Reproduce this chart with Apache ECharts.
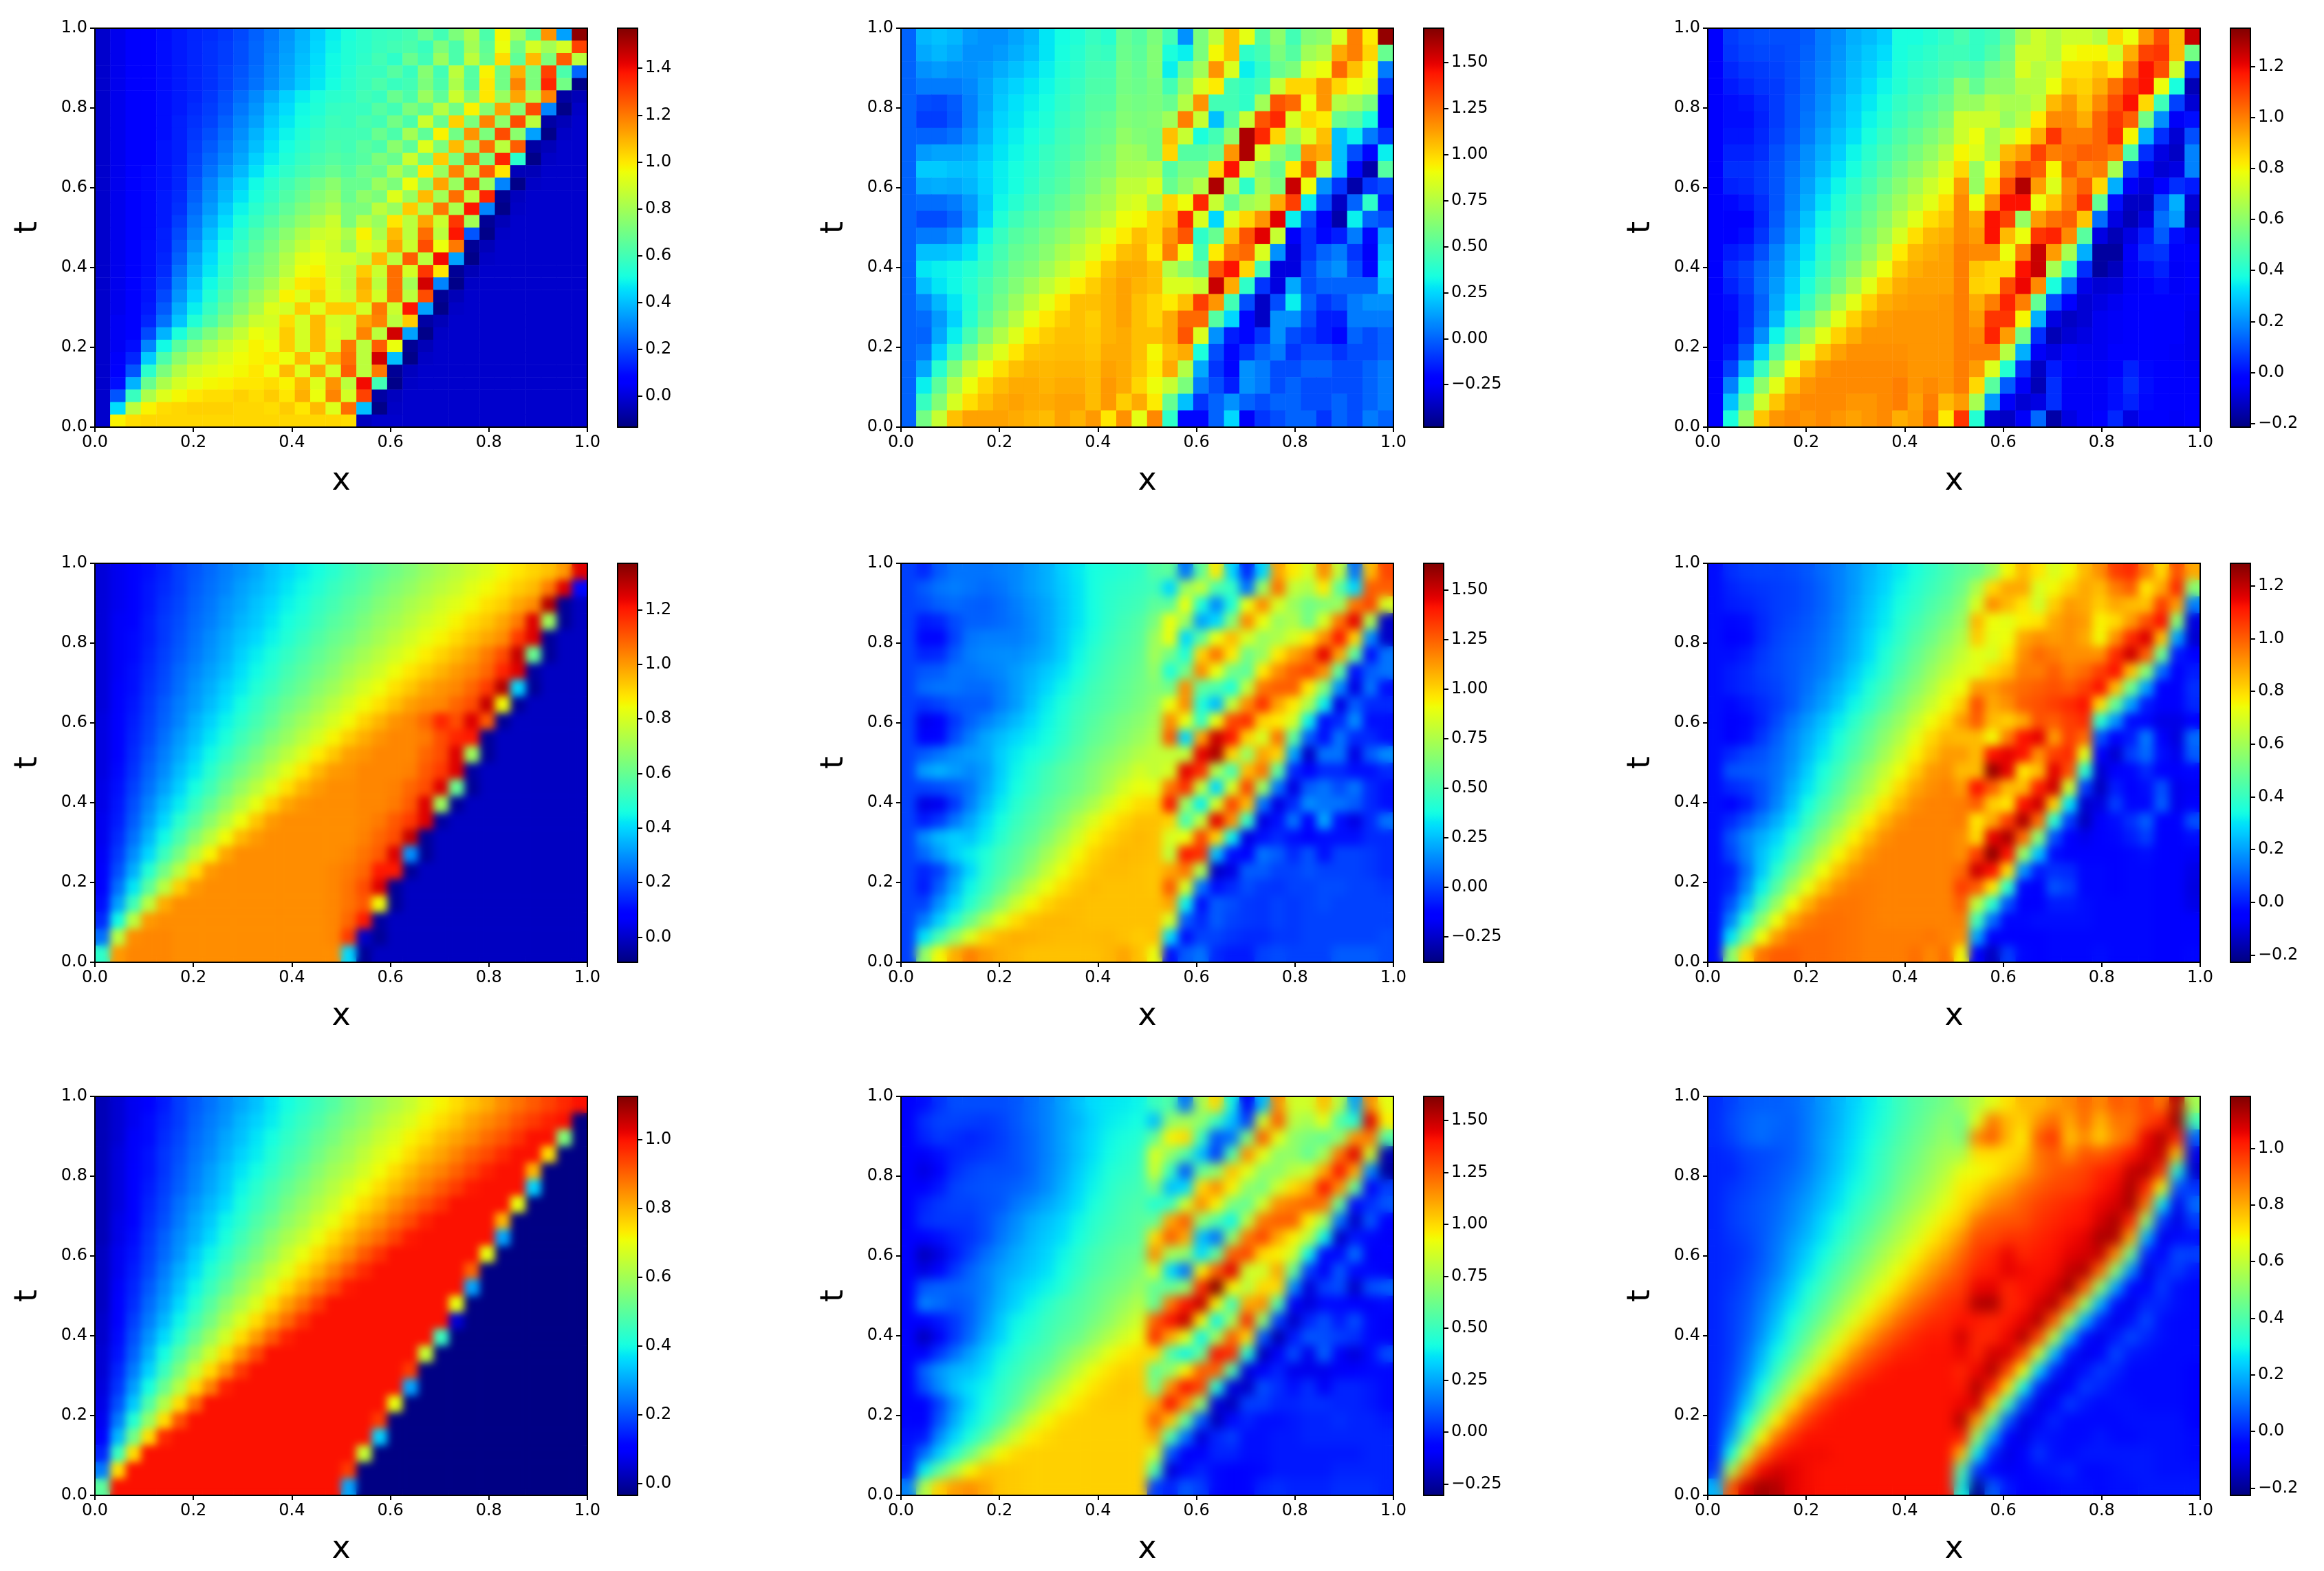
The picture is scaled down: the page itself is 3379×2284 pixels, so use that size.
<!DOCTYPE html>
<html><head><meta charset="utf-8"><style>html,body{margin:0;padding:0;background:#fff}body{position:relative}#c{width:3379px;height:2284px}</style>
<script src="https://cdn.jsdelivr.net/npm/echarts@6/dist/echarts.min.js"></script></head><body><div id="c"></div><script>
// All values are hundredths of u. Row lists run from t=1 down to t=0; a row shorter than 32 cells stays at its last value.
const u11=[
[-2,3,6,8,10,12,14,15,17,20,24,28,33,38,43,48,52,55,57,58,60,68,60,72,82,62,97,80,65,115,35,155],
[-2,3,6,8,10,12,14,16,18,21,25,29,34,39,44,49,53,55,58,60,62,58,72,62,80,66,95,70,90,80,90,130],
[-2,3,6,8,10,12,14,16,18,21,25,30,35,40,45,50,53,56,60,56,68,60,78,62,85,68,102,66,108,72,125,85],
[-2,3,6,8,10,12,14,16,19,22,26,31,36,41,46,50,54,58,58,64,58,74,60,85,64,98,70,110,72,130,62,25],
[-2,3,6,8,10,12,14,16,19,23,27,32,37,42,47,51,55,58,62,58,60,72,62,82,64,100,70,118,72,135,70,-12],
[-2,3,6,8,10,12,14,17,21,26,31,37,43,48,52,55,56,60,58,68,62,78,66,88,72,100,78,112,82,118,-8,-5],
[-2,3,6,8,10,12,15,18,22,28,33,40,45,50,53,57,58,58,64,60,72,66,84,70,98,74,112,74,128,30,-12,-3],
[-2,3,6,8,10,13,16,19,24,30,35,42,47,51,55,59,58,62,60,70,62,88,68,104,72,118,76,128,85,-8,-5,-2],
[-2,3,6,8,10,13,17,21,26,32,38,44,49,53,57,60,60,60,68,62,80,66,98,70,115,72,128,75,35,-12,-3,-2],
[-2,3,6,8,11,13,18,23,28,34,40,46,51,55,59,62,60,65,62,75,66,92,72,108,76,122,85,125,-8,-5,-2],
[-2,3,6,8,11,13,19,25,30,36,43,48,53,57,61,64,62,64,72,68,88,70,105,72,122,72,135,55,-12,-3,-2],
[-2,3,6,9,11,14,20,27,33,39,46,51,56,60,64,68,64,70,68,82,72,100,78,118,82,125,100,-5,-5,-2],
[-2,3,6,9,11,14,22,30,37,43,50,55,60,65,70,75,68,68,78,72,95,75,112,78,128,78,30,-12,-3,-2],
[-2,3,6,9,12,15,24,32,39,46,52,57,63,68,74,78,68,76,72,92,78,108,80,122,85,135,-10,-4,-2],
[-2,3,6,9,12,16,26,34,42,49,55,60,66,72,77,82,72,72,85,78,105,82,120,82,138,30,-12,-3,-2],
[-2,3,6,9,12,18,28,37,45,52,58,64,70,76,82,88,72,84,78,100,85,112,88,132,80,-10,-5,-2],
[-2,3,6,9,13,20,30,40,48,55,62,68,75,82,88,90,82,98,82,108,85,122,85,138,22,-12,-3,-2],
[-2,3,6,10,13,22,33,43,51,58,65,71,79,86,92,88,78,92,88,112,88,128,95,120,-10,-5,-2],
[-2,3,6,10,14,24,36,45,53,61,68,74,83,92,95,90,90,85,108,85,125,85,140,35,-12,-3,-2],
[-2,3,6,10,15,27,38,47,55,63,70,75,85,95,98,90,85,105,88,122,90,132,100,-10,-5,-2],
[-2,3,7,11,17,30,41,50,58,66,73,80,90,100,102,92,85,110,85,122,80,145,30,-12,-3,-2],
[-2,3,7,11,20,33,44,53,62,70,78,85,98,92,105,92,88,108,90,122,85,128,-10,-5,-2],
[-2,3,7,12,23,37,48,57,66,74,82,92,90,105,92,105,105,90,120,88,138,35,-12,-3,-2],
[-2,4,7,14,27,41,53,62,71,80,88,90,102,90,108,90,88,112,118,85,105,-8,-5,-2],
[-2,4,8,20,38,52,63,72,80,87,95,92,105,90,108,92,88,118,85,145,35,-12,-3,-2],
[-2,4,10,30,50,65,75,82,88,93,98,95,105,90,108,90,120,85,125,95,-10,-5,-2],
[-2,5,14,42,62,75,83,88,92,96,98,100,95,108,92,110,122,85,145,40,-12,-3,-2],
[-2,6,22,55,72,83,90,93,95,97,100,95,108,92,112,90,125,85,120,-10,-4,-2],
[-2,10,38,68,82,90,94,97,98,100,100,102,98,108,92,115,85,140,60,-12,-3,-2],
[-2,22,58,82,92,97,100,102,102,104,102,105,100,110,95,118,90,130,-8,-4,-2],
[-2,45,85,98,102,103,104,104,104,103,103,102,105,100,108,92,122,40,-12,-3,-2],
[-2,98,102,103,103,103,103,103,103,103,103,103,103,103,103,103,102,-4,-2]];
// Panels below: *L = rows for x<0.5 (t from 1 to 0), *R = columns for x>0.5 (each column from t=1 to t=0).
const u12L=[
[0,18,20,18,12,10,10,14,18,28,33,36,42,38,55,50],
[0,15,18,15,10,10,12,16,20,28,34,38,44,42,56,52],
[0,10,12,10,10,12,16,20,24,30,36,40,46,46,58,54],
[0,5,5,5,8,14,20,24,28,32,38,42,48,48,58,56],
[0,-5,-6,-2,6,14,22,27,30,34,40,44,50,50,60,58],
[0,-8,-8,-3,6,16,24,28,32,36,42,46,52,54,62,60],
[0,0,0,3,10,18,26,30,34,38,44,48,54,56,66,62],
[0,12,14,14,16,22,28,32,36,42,46,50,56,60,70,68],
[0,22,22,20,20,25,30,34,38,44,48,54,60,62,72,72],
[0,15,16,15,18,24,30,34,40,46,50,56,62,68,78,78],
[0,2,2,5,12,22,32,38,44,50,55,60,68,72,82,85],
[0,-5,-5,0,10,24,36,44,50,55,60,66,72,78,90,92],
[0,5,5,10,20,32,42,50,54,60,65,72,80,88,95,105],
[0,20,20,22,28,38,46,54,58,64,72,78,86,95,105,108],
[0,28,30,32,36,42,50,58,62,70,78,86,95,105,110,110],
[0,20,28,32,38,46,54,62,70,78,86,95,102,108,112,108],
[0,8,18,28,36,48,58,68,78,88,96,105,105,108,112,105],
[0,2,12,24,38,52,64,76,88,96,102,105,102,108,112,105],
[0,0,15,30,46,62,74,86,96,102,105,105,103,108,110,105],
[0,5,24,42,60,76,86,96,104,105,106,106,104,110,110,105],
[0,15,38,60,78,90,98,105,108,107,108,108,106,112,110,104],
[0,30,52,74,90,100,106,110,110,108,110,110,106,114,110,100],
[0,42,62,84,98,105,110,112,110,110,112,112,106,114,102,110],
[0,58,80,105,112,112,112,110,108,106,112,108,114,96,116,88]];
const u12R=[
[60,62,62,60,60,62,60,60,75,85,72,100,100,95,105,105,100,100,105,92,95,90,95,118],
[45,35,30,45,55,70,105,100,50,55,100,105,115,120,75,85,95,110,110,105,110,80,55,40],
[10,30,55,65,75,120,80,50,60,65,90,140,130,90,65,85,105,125,130,110,75,60,20,-20],
[60,60,70,85,115,80,35,50,60,75,140,85,40,45,55,80,135,125,85,35,15,5,-10,-20],
[78,92,115,95,45,20,45,55,100,160,80,25,55,95,130,155,115,50,10,-5,-10,-5,0,0],
[105,105,85,45,45,50,65,115,145,75,55,85,105,120,145,110,45,25,-15,-20,-20,-15,10,25],
[88,40,30,40,40,80,160,160,80,40,70,100,130,125,100,40,-5,-20,-20,-10,10,10,0,-25],
[50,45,40,45,70,130,140,85,65,70,75,115,150,85,45,-10,-35,-35,-10,0,5,5,-5,-10],
[65,60,55,80,130,140,100,65,55,60,110,150,80,10,-30,-30,-5,10,10,5,-5,-5,0,-5],
[45,50,60,100,125,85,70,55,95,155,135,30,-25,-30,-30,15,30,10,-5,-10,-5,0,0,0],
[62,70,85,100,90,100,85,115,130,90,30,-5,-10,-10,-5,-5,0,-5,-10,-5,0,-5,-5,0],
[65,75,90,115,115,95,105,110,80,10,-5,-25,-20,0,5,0,-10,-15,-15,-5,0,-5,-5,-10],
[85,110,125,100,75,55,20,20,20,-10,-35,-40,-15,5,10,0,-5,-15,-20,-10,-5,-5,0,0],
[120,120,105,90,70,50,30,-5,-20,-40,0,30,5,-10,-5,0,5,5,0,-5,-5,-5,-5,-5],
[95,100,90,85,60,35,5,-20,-40,-10,40,0,-20,-25,-20,0,10,5,-5,-5,0,0,0,5],
[165,55,5,-10,-20,-20,-10,30,50,-5,-15,-5,15,20,25,20,10,5,0,0,5,5,5,0]];
const u13L=[
[-2,7,9,10,10,10,12,17,20,25,27,30,38,38,40,43],
[-2,6,8,9,9,10,13,17,21,26,29,32,38,40,42,45],
[-2,4,6,7,8,10,14,18,22,27,30,34,39,42,44,47],
[-2,2,4,6,7,10,14,19,23,28,32,36,40,44,46,50],
[-2,0,1,4,7,11,15,20,25,30,34,38,43,46,50,54],
[-2,0,0,3,7,11,16,21,26,31,36,40,45,49,53,58],
[-2,1,1,4,8,12,17,23,28,33,38,43,48,52,57,62],
[-2,3,3,5,10,14,20,25,30,36,41,46,51,56,61,68],
[-2,5,5,7,11,16,21,27,33,38,44,49,55,60,66,74],
[-2,3,4,7,11,17,23,30,36,42,47,53,59,65,72,78],
[-2,-1,1,5,11,18,25,33,39,45,51,57,63,70,76,84],
[-2,-4,-2,4,12,20,28,36,42,48,54,60,68,76,84,88],
[-2,-2,0,6,14,22,31,38,45,51,57,64,74,84,90,92],
[-2,2,4,10,18,26,33,41,48,54,61,70,82,90,92,94],
[-2,5,8,14,20,28,36,44,51,59,68,78,88,92,94,94],
[-2,3,7,15,22,30,39,48,56,66,76,86,92,94,94,94],
[-2,0,5,13,24,33,44,54,66,76,86,92,94,95,95,96],
[-2,-1,5,14,27,40,52,64,76,86,92,95,96,96,96,96],
[-2,-1,7,20,36,50,64,76,86,92,96,96,96,96,96,96],
[-2,2,13,30,48,64,76,88,94,97,97,97,97,96,96,96],
[-2,8,26,44,62,78,90,96,98,98,98,98,98,96,96,96],
[-2,18,38,60,76,90,96,98,98,98,98,98,100,96,98,96],
[-2,28,50,72,88,96,98,98,98,96,96,98,100,94,100,90],
[-2,38,62,88,96,98,96,98,96,94,96,98,92,95,102,82]];
const u13R=[
[47,45,50,60,62,72,72,80,85,95,98,98,98,100,100,100,100,100,100,100,100,100,95,112],
[43,43,48,52,62,72,78,75,62,62,78,92,95,98,88,86,92,95,98,100,95,85,65,40],
[45,48,55,60,68,72,65,66,78,85,98,118,118,98,85,85,100,112,115,100,75,50,22,-10],
[52,55,58,60,65,62,72,90,98,108,118,110,90,78,85,108,115,112,95,68,40,12,-5,-12],
[65,72,74,68,65,68,80,95,108,128,118,62,78,100,118,120,100,80,55,25,5,-5,-10,-5],
[72,72,68,68,70,82,92,110,105,95,78,95,112,125,125,98,52,25,5,-5,-12,-14,-8,14],
[68,68,72,78,90,98,112,100,80,75,88,102,115,95,65,38,10,-8,-14,-8,2,5,5,-16],
[72,78,84,88,96,98,100,102,105,98,100,105,98,65,42,15,-2,-12,-10,-5,-2,-5,-5,-8],
[72,80,84,86,88,92,100,105,98,105,112,88,50,25,5,-7,-10,-10,-8,-6,-5,-5,-5,-5],
[68,80,88,92,98,104,104,104,100,85,52,15,-8,-17,-17,-10,-8,-6,-6,-6,-5,-5,-5,-2],
[85,72,82,102,108,112,114,100,65,25,0,-8,-14,-17,-13,-9,-6,-5,-5,-3,-2,0,0,4],
[78,92,102,112,118,105,80,48,8,-5,-12,-14,-8,-5,-5,-5,-4,-4,-4,-2,3,5,3,-8],
[96,110,118,118,85,55,25,5,-5,-9,-12,-8,2,5,0,-2,-2,-3,-3,-2,-1,0,-1,-2],
[108,112,108,78,45,20,5,-8,-10,-4,10,15,12,6,3,0,-2,-4,-4,-4,-3,-2,-2,-2],
[90,90,72,38,8,-5,-10,-12,-8,5,25,22,0,-4,-5,-5,-4,-4,-4,-5,-4,-4,-4,-5],
[125,55,5,-14,-10,0,10,18,18,2,-10,-12,-6,-4,-4,-4,-5,-6,-6,-6,-5,-4,-4,-2]];
const u21=[
[2,5,8,11,14,18,21,24,27,30,33,37,40,43,46,49,53,56,59,62,65,69,72,75,78,81,85,88,91,94,100,125],
[2,5,8,12,15,18,22,25,28,32,35,38,42,45,48,52,55,58,62,65,68,72,75,78,82,85,88,92,95,105,125,10],
[2,5,9,12,16,19,23,26,30,33,37,40,44,47,51,54,58,61,65,68,72,75,79,82,85,89,92,98,102,130,-6,-1],
[2,6,9,13,17,20,24,27,31,35,38,42,46,49,53,57,60,64,68,71,75,79,82,86,90,93,98,105,125,70,-6,-1],
[2,6,10,13,17,21,25,29,33,37,40,44,48,52,56,60,63,67,71,75,79,83,86,90,94,98,102,115,125,-6,-1],
[2,6,10,14,18,22,26,30,34,39,43,47,51,55,59,63,67,71,75,79,83,87,91,95,99,105,112,128,60,-6,-1],
[2,6,11,15,19,24,28,32,36,41,45,49,54,58,62,66,71,75,79,84,88,92,96,100,103,108,118,125,-5,-1],
[2,7,11,16,20,25,30,34,39,43,48,52,57,61,66,70,75,80,84,89,93,98,101,103,108,115,130,40,-6,-1],
[2,7,12,17,22,27,31,36,41,46,51,56,61,65,70,75,80,85,89,94,99,102,103,108,112,128,85,-6,-1],
[3,8,13,18,23,28,34,39,44,49,54,59,65,70,75,80,85,91,96,101,103,108,118,112,125,110,-6,-1],
[3,8,14,19,25,31,36,42,47,53,58,64,69,75,80,86,92,97,101,103,103,105,112,118,120,-6,-1],
[3,9,15,21,27,33,39,45,51,57,63,69,75,81,87,93,99,101,103,103,103,108,112,125,70,-6,-1],
[3,10,16,23,29,36,42,49,56,62,68,75,82,88,95,100,101,103,103,103,104,110,115,125,-5,-1],
[4,11,18,25,32,39,46,53,61,68,75,82,89,96,100,102,102,103,103,104,108,112,125,60,-6,-1],
[4,12,20,28,36,43,51,59,67,75,83,91,98,101,102,102,102,103,103,105,110,125,70,-6,-1],
[5,13,22,31,40,49,57,66,75,84,93,100,102,102,102,102,102,103,105,110,115,125,-5,-1],
[5,15,25,35,45,55,65,75,85,95,100,102,102,102,102,102,102,104,108,112,128,-6,-1],
[6,17,29,40,52,63,75,86,98,102,102,102,102,102,102,102,103,106,110,125,30,-6,-1],
[7,20,34,48,62,75,89,100,102,102,102,102,102,102,102,103,105,108,120,120,-6,-1],
[8,25,42,58,75,92,100,102,102,102,102,102,102,102,102,103,106,112,125,-6,-1],
[11,32,53,75,97,102,102,102,102,102,102,102,102,102,102,103,106,110,85,-6,-1],
[15,45,75,100,102,102,102,102,102,102,102,102,102,102,102,103,108,120,-5,-1],
[25,75,102,103,103,102,102,102,102,102,102,102,102,102,102,103,115,0,-6,-1],
[50,100,103,103,103,102,102,102,102,102,102,102,102,102,102,102,40,-6,-1]];
const u22L=[
[0,-5,5,10,10,10,12,14,18,22,28,33,38,40,42,44],
[0,5,10,12,10,8,10,14,18,22,27,32,38,42,44,46],
[0,2,6,8,6,5,8,12,16,20,26,32,38,43,46,48],
[0,-8,-6,2,6,6,8,11,15,20,26,32,38,44,48,52],
[0,-12,-12,0,10,12,12,12,15,20,27,34,40,46,50,54],
[0,-6,-5,5,12,14,15,15,18,22,28,36,43,48,52,56],
[0,4,5,10,10,12,14,18,22,27,32,38,45,50,54,58],
[0,8,10,10,8,8,12,18,24,30,36,42,48,52,56,60],
[0,-3,0,4,5,5,12,18,26,34,40,46,50,54,58,62],
[0,-18,-15,-2,6,12,18,24,30,36,42,48,53,58,62,66],
[0,-15,-12,2,12,20,25,30,34,38,44,50,56,60,65,70],
[0,5,10,15,18,20,28,34,38,42,48,54,60,65,70,76],
[0,18,22,18,14,18,28,36,42,48,54,58,64,70,76,84],
[0,0,2,5,10,20,30,38,44,50,55,60,66,74,84,90],
[0,-20,-18,-2,12,24,34,42,48,54,60,66,74,84,92,98],
[0,-8,-2,10,20,30,38,46,52,58,66,76,86,94,100,104],
[0,15,24,28,26,34,42,50,56,64,74,84,94,100,104,106],
[0,8,18,28,34,40,48,54,62,72,82,92,100,104,106,105],
[0,-6,0,16,30,42,50,58,68,80,90,98,103,105,105,104],
[0,-8,6,22,36,46,56,68,80,90,98,103,105,104,104,104],
[0,0,16,30,42,54,68,82,92,100,104,105,104,104,104,104],
[0,12,28,42,58,74,88,98,104,106,106,105,104,104,104,104],
[0,32,50,68,86,100,106,108,107,106,105,105,105,106,104,102],
[0,68,92,108,118,112,108,106,104,104,104,104,104,106,110,104]];
const u22R=[
[52,48,55,62,70,72,68,64,68,72,76,80,80,88,100,104,104,104,103,103,104,104,104,90],
[55,30,55,90,90,60,40,60,90,115,125,80,85,120,140,100,85,80,110,125,110,85,30,-10],
[10,70,90,70,30,40,60,115,115,90,30,80,145,135,70,50,90,140,120,85,35,5,-10,5],
[55,80,40,20,55,100,115,55,40,45,110,145,135,80,35,80,130,135,75,10,-10,-5,0,10],
[95,50,15,30,90,120,90,50,25,90,150,155,75,30,85,145,100,25,-25,-10,5,5,0,-5],
[30,45,40,65,105,95,60,40,80,130,140,100,50,85,130,115,35,-10,-20,-5,2,0,-3,-8],
[-5,10,90,115,85,60,55,80,115,135,100,70,105,130,105,45,-20,-15,5,2,-2,-2,-5,-8],
[30,70,115,90,70,70,95,120,135,100,85,110,120,70,10,-20,-10,10,5,-2,-3,-3,-5,0],
[110,120,85,70,75,95,115,125,110,95,120,100,55,10,-20,-10,-5,5,0,-3,0,0,-2,2],
[95,80,70,75,85,110,125,125,95,85,55,20,-5,-20,-5,10,-10,-5,0,0,-2,-2,-2,0],
[85,75,60,60,95,120,130,95,75,35,5,-25,-15,5,15,-15,-15,3,3,0,0,0,0,0],
[115,95,65,85,115,145,115,65,35,-10,-10,10,-5,10,10,20,-10,-10,0,2,2,0,0,0],
[80,55,70,120,140,110,55,15,-20,-5,10,10,-5,2,10,-10,-10,0,0,2,0,0,0,5],
[10,30,120,145,100,55,-10,-20,5,15,-5,-20,-10,10,5,-20,-10,0,0,0,0,0,0,5],
[105,125,130,75,15,-10,5,10,-5,-10,-5,5,-10,-5,-5,-5,-5,-2,-2,0,0,0,0,5],
[130,125,85,-25,-25,10,10,-10,-5,-10,-10,15,-5,-10,-10,10,-5,-5,-5,-2,0,0,2,2]];
const u23L=[
[-2,3,5,6,6,7,9,12,15,19,23,27,31,35,39,43],
[-2,1,3,4,5,6,8,11,15,19,24,28,33,37,41,45],
[-2,0,1,3,5,6,8,11,15,20,25,30,35,39,44,48],
[-2,-3,-2,2,5,7,9,12,16,21,26,31,37,42,47,52],
[-2,-4,-3,2,6,8,10,13,17,22,28,33,39,45,50,56],
[-2,-2,0,4,7,9,11,14,18,23,29,36,42,48,54,60],
[-2,0,2,5,7,9,12,15,20,26,32,38,45,51,58,64],
[-2,0,2,4,6,9,13,18,23,29,36,42,49,55,62,70],
[-2,-3,-1,2,5,9,15,20,26,33,39,46,53,60,67,74],
[-2,-6,-3,1,7,13,19,25,31,38,45,52,58,66,74,80],
[-2,-6,-2,4,10,16,22,28,35,42,49,56,63,72,80,86],
[-2,2,6,8,12,17,24,31,38,45,52,60,68,76,84,90],
[-2,8,9,10,13,19,27,35,42,50,58,66,74,82,90,92],
[-2,2,4,8,14,22,30,38,46,54,62,71,80,88,92,94],
[-2,-4,0,8,16,25,34,43,51,60,69,78,86,92,94,94],
[-2,2,8,15,22,30,40,49,58,68,77,86,92,94,94,94],
[-2,8,16,22,28,36,46,56,66,76,85,92,94,94,94,94],
[-2,6,15,25,32,42,53,64,75,84,91,94,94,94,94,94],
[-2,0,12,26,38,50,62,74,84,91,94,94,94,94,94,94],
[-2,2,16,32,46,60,73,84,92,95,95,94,94,94,94,94],
[-2,8,24,42,58,74,86,94,96,96,95,94,94,94,94,94],
[-2,16,36,56,74,88,95,97,97,96,95,94,94,94,94,94],
[-2,30,52,74,90,97,98,98,97,96,95,95,95,95,96,94],
[-2,55,80,96,100,100,98,98,97,96,95,95,95,97,93,97]];
const u23R=[
[47,50,54,58,62,66,70,74,82,90,85,90,85,90,95,95,92,92,98,105,100,95,92,75],
[50,62,70,85,82,72,72,90,102,100,85,85,85,112,100,78,80,105,118,100,65,42,20,-5],
[58,80,92,74,72,70,80,90,88,85,75,112,125,100,82,88,115,126,112,78,38,12,-5,-14],
[75,88,85,72,74,78,85,95,92,82,95,115,115,85,78,105,122,112,80,38,8,-3,-6,5],
[85,88,78,76,88,92,95,98,100,88,112,112,78,85,112,122,98,58,18,-3,-6,-3,-5,-3],
[78,70,68,78,92,98,95,100,102,102,115,92,85,110,118,98,55,25,0,-6,-5,-2,-5,-5],
[70,75,82,88,90,95,100,102,105,100,90,105,115,118,82,38,8,-2,3,8,0,-2,-3,-3],
[75,82,90,92,92,92,95,100,108,105,105,108,102,68,30,5,-5,-6,2,5,0,-2,-3,-3],
[85,88,88,90,88,92,98,105,112,108,98,72,38,5,-12,-14,-8,-5,-3,-3,-2,-2,-3,-3],
[92,85,82,76,75,92,105,112,80,38,8,-5,-12,-14,-10,-6,-5,-4,-3,-3,-3,-3,-3,-2],
[105,95,88,80,92,108,112,85,48,18,-5,-12,-6,0,5,-2,-3,-4,-4,-4,-3,-3,-3,-3],
[108,100,85,90,108,118,85,50,20,-2,0,5,-3,-4,-3,3,0,-3,-3,-3,-3,-3,-3,-3],
[95,78,84,102,116,100,55,20,0,-3,14,12,2,-2,-3,10,5,-2,-3,-3,-3,-3,-3,-3],
[80,88,105,112,85,50,12,-4,-6,-9,-6,-2,-5,8,10,-4,-6,-5,-4,-4,-4,-4,-4,-4],
[102,108,90,55,20,0,-5,-6,-6,-9,-10,-8,-6,-8,-8,-5,-6,-6,-5,-5,-5,-5,-5,-5],
[88,55,15,-10,-12,-5,0,3,2,-4,12,10,-3,-7,-6,8,-2,-7,-9,-10,-9,-6,-5,-3]];
const u31=[
[2,5,8,11,14,18,21,24,27,30,33,37,40,43,46,49,53,56,59,62,65,69,72,75,78,81,85,88,91,94,97,100],
[2,5,8,12,15,18,22,25,28,32,35,38,42,45,48,52,55,58,62,65,68,72,75,78,82,85,88,92,95,98,100,-3],
[2,5,9,12,16,19,23,26,30,33,37,40,44,47,51,54,58,61,65,68,72,75,79,82,85,89,92,96,100,100,55,-3],
[2,6,9,13,17,20,24,27,31,35,38,42,46,49,53,57,60,64,68,71,75,79,82,86,90,93,97,100,100,75,-3],
[2,6,10,13,17,21,25,29,33,37,40,44,48,52,56,60,63,67,71,75,79,83,86,90,94,98,100,100,80,-3],
[2,6,10,14,18,22,26,30,34,39,43,47,51,55,59,63,67,71,75,79,83,87,91,95,99,100,100,100,35,-3],
[2,6,11,15,19,24,28,32,36,41,45,49,54,58,62,66,71,75,79,84,88,92,96,100,100,100,100,70,-3],
[2,7,11,16,20,25,30,34,39,43,48,52,57,61,66,70,75,80,84,89,93,98,100,100,100,100,80,-3],
[2,7,12,17,22,27,31,36,41,46,51,56,61,65,70,75,80,85,89,94,99,100,100,100,100,100,30,-3],
[3,8,13,18,23,28,34,39,44,49,54,59,65,70,75,80,85,91,96,100,100,100,100,100,100,70,-3],
[3,8,14,19,25,31,36,42,47,53,58,64,69,75,80,86,92,97,100,100,100,100,100,100,90,-3],
[3,9,15,21,27,33,39,45,51,57,63,69,75,81,87,93,99,100,100,100,100,100,100,100,30,-3],
[3,10,16,23,29,36,42,49,56,62,68,75,82,88,95,100,100,100,100,100,100,100,100,70,-3],
[4,11,18,25,32,39,46,53,61,68,75,82,89,96,100,100,100,100,100,100,100,100,100,5,-3],
[4,12,20,28,36,43,51,59,67,75,83,91,98,100,100,100,100,100,100,100,100,100,45,-3],
[5,13,22,31,40,49,57,66,75,84,93,100,100,100,100,100,100,100,100,100,100,65,-3],
[5,15,25,35,45,55,65,75,85,95,100,100,100,100,100,100,100,100,100,100,95,-3],
[6,17,29,40,52,63,75,86,98,100,100,100,100,100,100,100,100,100,100,100,30,-3],
[7,20,34,48,62,75,89,100,100,100,100,100,100,100,100,100,100,100,100,70,-3],
[8,25,42,58,75,92,100,100,100,100,100,100,100,100,100,100,100,100,95,-3],
[11,32,53,75,97,100,100,100,100,100,100,100,100,100,100,100,100,100,35,-3],
[15,45,75,100,100,100,100,100,100,100,100,100,100,100,100,100,100,65,-3],
[25,75,100,100,100,100,100,100,100,100,100,100,100,100,100,100,95,-3],
[50,100,100,100,100,100,100,100,100,100,100,100,100,100,100,100,30,-3]];
const u32L=[
[-8,-4,3,8,8,8,8,10,14,18,24,30,35,37,38,40],
[-8,2,6,6,5,4,6,10,14,18,24,28,34,38,40,42],
[-8,0,4,2,0,2,5,9,13,18,24,30,35,40,43,45],
[-8,-10,-4,0,2,4,6,9,13,18,24,30,36,41,45,48],
[-8,-14,-8,2,6,8,8,9,13,19,25,32,38,44,47,50],
[-8,-8,-2,6,8,9,10,12,15,20,27,34,40,46,50,52],
[-8,0,4,6,6,8,10,16,20,25,30,36,43,48,52,55],
[-8,2,4,4,4,8,14,20,26,30,34,40,46,50,54,57],
[-8,-8,-4,0,3,8,16,22,28,32,36,42,48,53,56,58],
[-8,-20,-14,-2,6,14,20,26,30,34,40,46,52,56,60,62],
[-8,-14,-6,4,12,18,24,28,32,36,42,48,54,58,62,66],
[-8,10,12,12,14,18,26,32,36,40,45,52,58,62,66,72],
[-8,18,14,10,12,20,28,34,40,46,52,56,60,66,72,78],
[-8,-8,-2,4,12,22,32,40,44,50,54,58,64,70,78,85],
[-8,-20,-10,4,14,26,34,42,47,52,58,62,70,78,86,92],
[-8,-8,4,14,24,32,40,46,52,56,64,72,80,90,96,100],
[-8,12,22,28,30,36,44,50,56,62,72,82,92,98,102,102],
[-8,8,20,30,36,40,48,54,62,72,82,92,98,102,104,103],
[-8,-8,6,22,34,42,50,58,70,82,92,98,102,103,103,102],
[-6,-8,10,26,38,46,56,70,84,94,100,102,102,102,102,102],
[-4,-2,20,34,44,56,72,86,96,100,102,102,102,102,102,102],
[-2,14,32,46,62,80,94,100,102,102,102,102,102,102,102,102],
[0,38,58,76,94,104,104,103,102,102,102,102,102,102,102,102],
[18,78,102,112,115,110,104,103,102,102,102,102,102,102,102,102]];
const u32R=[
[50,30,60,88,85,65,45,60,100,115,85,60,60,125,135,100,60,65,110,125,110,85,55,5],
[55,70,95,70,50,30,50,110,125,75,35,60,120,140,110,55,70,115,140,105,55,10,-15,0],
[15,75,100,55,10,35,85,125,110,70,15,70,140,150,90,40,95,140,115,60,15,-10,-5,10],
[75,70,50,30,60,100,115,70,30,35,95,135,150,95,40,60,125,130,70,10,-15,-8,0,5],
[100,50,10,5,70,115,95,55,15,60,125,160,95,40,75,140,125,45,-15,-20,0,0,-5,-5],
[40,30,15,55,105,95,65,40,70,125,145,95,50,75,125,135,55,-15,-20,-5,5,0,-8,-8],
[-10,5,65,115,90,70,60,80,120,130,85,80,110,135,100,45,-15,-18,5,0,-4,-4,-6,-6],
[30,85,125,90,70,65,85,120,130,100,85,100,115,70,10,-20,-10,8,5,-4,-4,-4,-5,0],
[115,125,90,70,70,85,115,125,110,95,110,100,55,5,-22,-10,0,2,0,-4,-2,-2,-2,2],
[85,80,70,70,80,100,120,125,95,85,60,20,-10,-18,-2,8,-12,-4,0,-2,-2,-2,-2,0],
[85,75,65,60,85,110,125,95,80,40,5,-15,-15,0,10,-12,-12,2,2,0,0,-2,-2,0],
[105,90,60,75,110,140,120,75,40,-5,-10,5,-5,8,8,12,-12,-10,2,0,0,-2,-2,0],
[80,55,70,120,140,115,60,15,-18,-5,10,8,-5,-2,5,-10,-10,0,0,2,0,-2,0,2],
[25,45,115,145,110,60,-5,-18,-2,15,-5,-18,-8,8,2,-15,-8,0,0,0,0,-2,0,2],
[115,145,120,85,20,-10,2,10,-5,-10,-5,8,-10,-5,-5,-5,-5,-2,-2,0,0,0,0,2],
[90,95,55,-22,-25,5,10,-8,-10,-8,-10,12,-5,-10,-10,8,-5,-5,-5,-2,0,0,0,0]];
const u33L=[
[1,4,7,8,8,9,12,16,20,24,28,32,37,41,44,47],
[1,5,8,10,9,8,12,16,20,25,29,33,38,42,46,50],
[1,4,8,10,8,8,12,17,21,26,30,35,40,44,48,52],
[0,1,4,5,6,8,12,17,22,27,32,37,42,46,51,55],
[0,0,3,5,7,9,13,18,23,28,33,38,44,48,53,58],
[0,2,4,6,8,11,15,20,25,30,35,40,46,51,56,62],
[0,3,5,7,9,13,17,22,27,33,38,43,49,54,60,66],
[0,3,5,7,10,14,19,25,30,36,41,47,53,59,65,71],
[0,2,4,7,11,16,21,27,33,39,45,51,57,63,70,76],
[0,1,3,7,12,18,24,30,37,43,49,56,62,69,76,82],
[0,1,4,8,13,20,27,34,41,47,54,61,68,75,82,88],
[0,2,5,10,16,23,31,38,45,52,60,67,74,82,88,94],
[0,3,6,12,19,27,35,42,50,58,66,74,82,89,94,98],
[0,3,7,14,22,31,39,47,56,65,74,82,90,95,99,100],
[0,3,8,16,26,35,44,54,64,74,83,91,96,100,102,102],
[0,3,10,20,30,40,51,62,73,84,92,97,101,102,103,103],
[0,4,12,24,36,48,60,72,84,93,98,102,103,103,103,103],
[0,5,16,30,44,58,72,85,94,100,103,103,103,103,103,103],
[0,7,22,38,55,72,87,96,102,103,103,103,103,103,103,103],
[0,11,30,50,70,87,97,102,103,103,103,103,103,103,103,103],
[0,18,42,68,88,98,103,103,103,103,103,103,103,103,103,103],
[0,30,62,88,100,104,104,104,103,103,103,103,103,103,103,103],
[2,55,88,104,108,106,104,103,103,103,103,103,103,103,103,103],
[20,92,108,114,112,106,104,103,103,103,103,103,103,103,103,103]];
const u33R=[
[52,46,48,56,66,70,72,76,84,90,94,97,100,103,108,105,100,102,105,112,102,78,40,30],
[58,65,85,72,68,72,78,88,94,97,100,105,112,102,100,100,105,112,108,82,52,28,2,-20],
[65,88,92,72,70,78,85,92,95,100,102,106,113,100,100,108,112,100,75,45,18,0,-7,8],
[72,78,78,72,75,82,88,93,98,105,106,100,100,102,105,108,95,72,38,8,-6,-10,-8,-2],
[78,74,70,75,80,88,92,94,98,100,104,103,102,106,112,95,68,30,5,-10,-10,-6,-6,-7],
[78,84,92,88,88,92,96,98,100,102,103,104,108,112,95,62,25,0,-10,-8,-2,2,-3,-5],
[82,90,98,92,92,95,98,100,102,103,104,108,112,92,58,22,0,-10,-6,0,-3,-3,-2,-4],
[85,80,76,85,94,96,100,102,104,106,110,114,92,55,20,-2,-9,-5,3,-4,-4,-4,0,-3],
[90,90,85,93,96,98,102,103,106,108,112,92,55,20,-3,-9,-3,3,-2,-4,-4,-2,-4,-3],
[85,78,75,92,100,102,105,108,113,110,90,52,20,0,-9,-5,3,0,-4,-4,-2,-2,-4,-4],
[92,88,85,96,102,105,108,113,112,85,50,18,-3,-9,-2,5,0,-3,-3,-4,-4,-2,-3,-3],
[90,88,90,102,110,113,113,100,80,45,15,-4,-9,-3,5,-2,-4,-4,-3,-3,-4,-2,-2,-3],
[95,95,105,108,112,100,88,52,20,0,-10,-6,0,5,0,-3,-4,-4,-4,-3,-3,-2,-2,-2],
[88,100,112,110,98,68,28,3,-9,-6,0,3,0,-3,-3,-4,-4,-4,-4,-3,-3,-3,-3,-2],
[112,115,100,75,32,6,-9,-10,-4,5,3,-3,-3,-4,-4,-4,-4,-4,-4,-3,-3,-3,-3,-2],
[55,38,8,-10,-13,2,10,3,-3,4,-2,-4,-4,-4,-4,-4,-5,-5,-5,-5,-4,-4,-3,-2]];
const xyTicks=[0,0.2,0.4,0.6,0.8,1];
const ticksA=[0,0.2,0.4,0.6,0.8,1,1.2,1.4];
const ticksB=[-0.25,0,0.25,0.5,0.75,1,1.25,1.5];
const ticksC=[-0.2,0,0.2,0.4,0.6,0.8,1,1.2];
const ticksD=[0,0.2,0.4,0.6,0.8,1,1.2];
const ticksE=[0,0.2,0.4,0.6,0.8,1];
const ticksF=[-0.2,0,0.2,0.4,0.6,0.8,1];

const COLS=32;
const padded=m=>m.map(r=>{const o=r.slice();while(o.length<COLS)o.push(o[o.length-1]);return o;});
const joined=(L,R)=>L.map((r,i)=>r.concat(R.map(c=>c[i])));
const panels=[
{d:padded(u11),min:-0.133,max:1.571,t:ticksA,dec:1,soft:0},
{d:joined(u12L,u12R),min:-0.481,max:1.687,t:ticksB,dec:2,soft:0},
{d:joined(u13L,u13R),min:-0.214,max:1.349,t:ticksC,dec:1,soft:0},
{d:padded(u21),min:-0.092,max:1.37,t:ticksD,dec:1,soft:6},
{d:joined(u22L,u22R),min:-0.38,max:1.633,t:ticksB,dec:2,soft:7},
{d:joined(u23L,u23R),min:-0.227,max:1.285,t:ticksC,dec:1,soft:7},
{d:padded(u31),min:-0.034,max:1.125,t:ticksE,dec:1,soft:6},
{d:joined(u32L,u32R),min:-0.304,max:1.616,t:ticksB,dec:2,soft:8},
{d:joined(u33L,u33R),min:-0.226,max:1.183,t:ticksF,dec:1,soft:9}];
const colX=[138,1310,2483],rowY=[41,819,1594],PW=716,PH=580,CBX=44,CBW=29;
const FS=24;
function jet(v){const c=(a)=>Math.round(255*Math.max(0,Math.min(1,a)));
 const r=v<.35?0:v<.66?(v-.35)/.31:v<.89?1:1-(v-.89)/.11*.5;
 const g=v<.125?0:v<.375?(v-.125)/.25:v<.64?1:v<.91?1-(v-.64)/.27:0;
 const b=v<.11?.5+v/.11*.5:v<.34?1:v<.65?1-(v-.34)/.31:0;
 return `rgb(${c(r)},${c(g)},${c(b)})`;}
const jetColors=Array.from({length:129},(_,i)=>jet(i/128));
const fmt1=v=>v.toFixed(1);
const opt={animation:false,backgroundColor:'#fff',grid:[],xAxis:[],yAxis:[],series:[],visualMap:[],textStyle:{fontFamily:'DejaVu Sans'}};
const line={show:true,onZero:false,lineStyle:{color:'#000',width:2}};
const idx=n=>Array.from({length:n},(_,k)=>k);
const cells=p=>{const rows=p.d.length,data=[];p.d.forEach((r,ri)=>r.forEach((v,ci)=>data.push([ci,rows-1-ri,v/100])));return data;};
panels.forEach((p,i)=>{
 const x0=colX[i%3],y0=rowY[Math.floor(i/3)];
 const n=opt.grid.length;
 opt.grid.push({left:x0,top:y0,width:PW,height:PH,containLabel:false});
 const xi=opt.xAxis.length,yi=opt.yAxis.length;
 const rows=p.d.length,cols=p.d[0].length;
 opt.xAxis.push({gridIndex:n,type:'category',position:'top',data:idx(cols),axisLine:line,axisTick:{show:false},axisLabel:{show:false},splitLine:{show:false},z:5});
 opt.yAxis.push({gridIndex:n,type:'category',position:'right',data:idx(rows),axisLine:line,axisTick:{show:false},axisLabel:{show:false},splitLine:{show:false},z:5});
 opt.xAxis.push({gridIndex:n,type:'value',position:'bottom',min:0,max:1,interval:.2,name:'x',nameLocation:'middle',nameGap:56,nameTextStyle:{fontSize:46,color:'#000',fontFamily:'DejaVu Sans'},axisLine:line,axisTick:{show:true,length:7,customValues:xyTicks,lineStyle:{color:'#000',width:2}},axisLabel:{fontSize:FS,color:'#000',margin:11,customValues:xyTicks,formatter:fmt1,hideOverlap:false},splitLine:{show:false},z:5});
 opt.yAxis.push({gridIndex:n,type:'value',position:'left',min:0,max:1,interval:.2,name:'t',nameLocation:'middle',nameGap:74,nameTextStyle:{fontSize:46,color:'#000',fontFamily:'DejaVu Sans'},axisLine:line,axisTick:{show:true,length:7,customValues:xyTicks,lineStyle:{color:'#000',width:2}},axisLabel:{fontSize:FS,color:'#000',margin:11,customValues:xyTicks,formatter:fmt1,hideOverlap:false},splitLine:{show:false},z:5});
 const si=opt.series.length;
 opt.series.push({type:'heatmap',xAxisIndex:xi,yAxisIndex:yi,data:cells(p),progressive:0,silent:true});
 opt.visualMap.push({type:'continuous',seriesIndex:si,min:p.min,max:p.max,show:true,calculable:false,realtime:false,left:x0+PW+CBX,top:y0,itemWidth:CBW,itemHeight:PH,padding:0,text:null,inRange:{color:jetColors},hoverLink:false,z:1});
 const g2=opt.grid.length;
 opt.grid.push({left:x0+PW+CBX,top:y0,width:CBW,height:PH,show:false});
 const dec=p.dec;
 opt.xAxis.push({gridIndex:g2,type:'category',position:'top',data:[0],axisLine:line,axisTick:{show:false},axisLabel:{show:false},z:5});
 opt.yAxis.push({gridIndex:g2,type:'value',position:'right',min:p.min,max:p.max,axisLine:line,splitLine:{show:false},
  axisTick:{show:true,length:7,customValues:p.t,lineStyle:{color:'#000',width:2}},
  axisLabel:{fontSize:FS,color:'#000',margin:11,customValues:p.t,formatter:v=>v.toFixed(dec).replace('-','\u2212')},z:5});
 opt.yAxis.push({gridIndex:g2,type:'value',position:'left',min:p.min,max:p.max,axisLine:line,splitLine:{show:false},axisTick:{show:false},axisLabel:{show:false},z:5});
 opt.xAxis.push({gridIndex:g2,type:'category',position:'bottom',data:[0],axisLine:line,axisTick:{show:false},axisLabel:{show:false},z:5});
});
echarts.init(document.getElementById('c'),null,{renderer:'canvas'}).setOption(opt);
// Rows 2 and 3 of the reference are smooth: a softened copy of the same cells sits over the sharp one, inside the frame.
panels.forEach((p,i)=>{
 if(!p.soft)return;
 const x0=colX[i%3],y0=rowY[Math.floor(i/3)];
 const w=document.createElement('div');
 w.style.cssText=`position:absolute;left:${x0+1}px;top:${y0+1}px;width:${PW-2}px;height:${PH-2}px;overflow:hidden`;
 const b=document.createElement('div');
 b.style.cssText=`position:absolute;left:-1px;top:-1px;width:${PW}px;height:${PH}px;filter:blur(${p.soft}px)`;
 w.appendChild(b);document.body.appendChild(w);
 echarts.init(b,null,{renderer:'canvas'}).setOption({animation:false,
  grid:{left:0,right:0,top:0,bottom:0},
  xAxis:{type:'category',show:false,data:idx(p.d[0].length)},
  yAxis:{type:'category',show:false,data:idx(p.d.length)},
  visualMap:{show:false,min:p.min,max:p.max,inRange:{color:jetColors}},
  series:[{type:'heatmap',data:cells(p),progressive:0,silent:true}]});
});
</script></body></html>
